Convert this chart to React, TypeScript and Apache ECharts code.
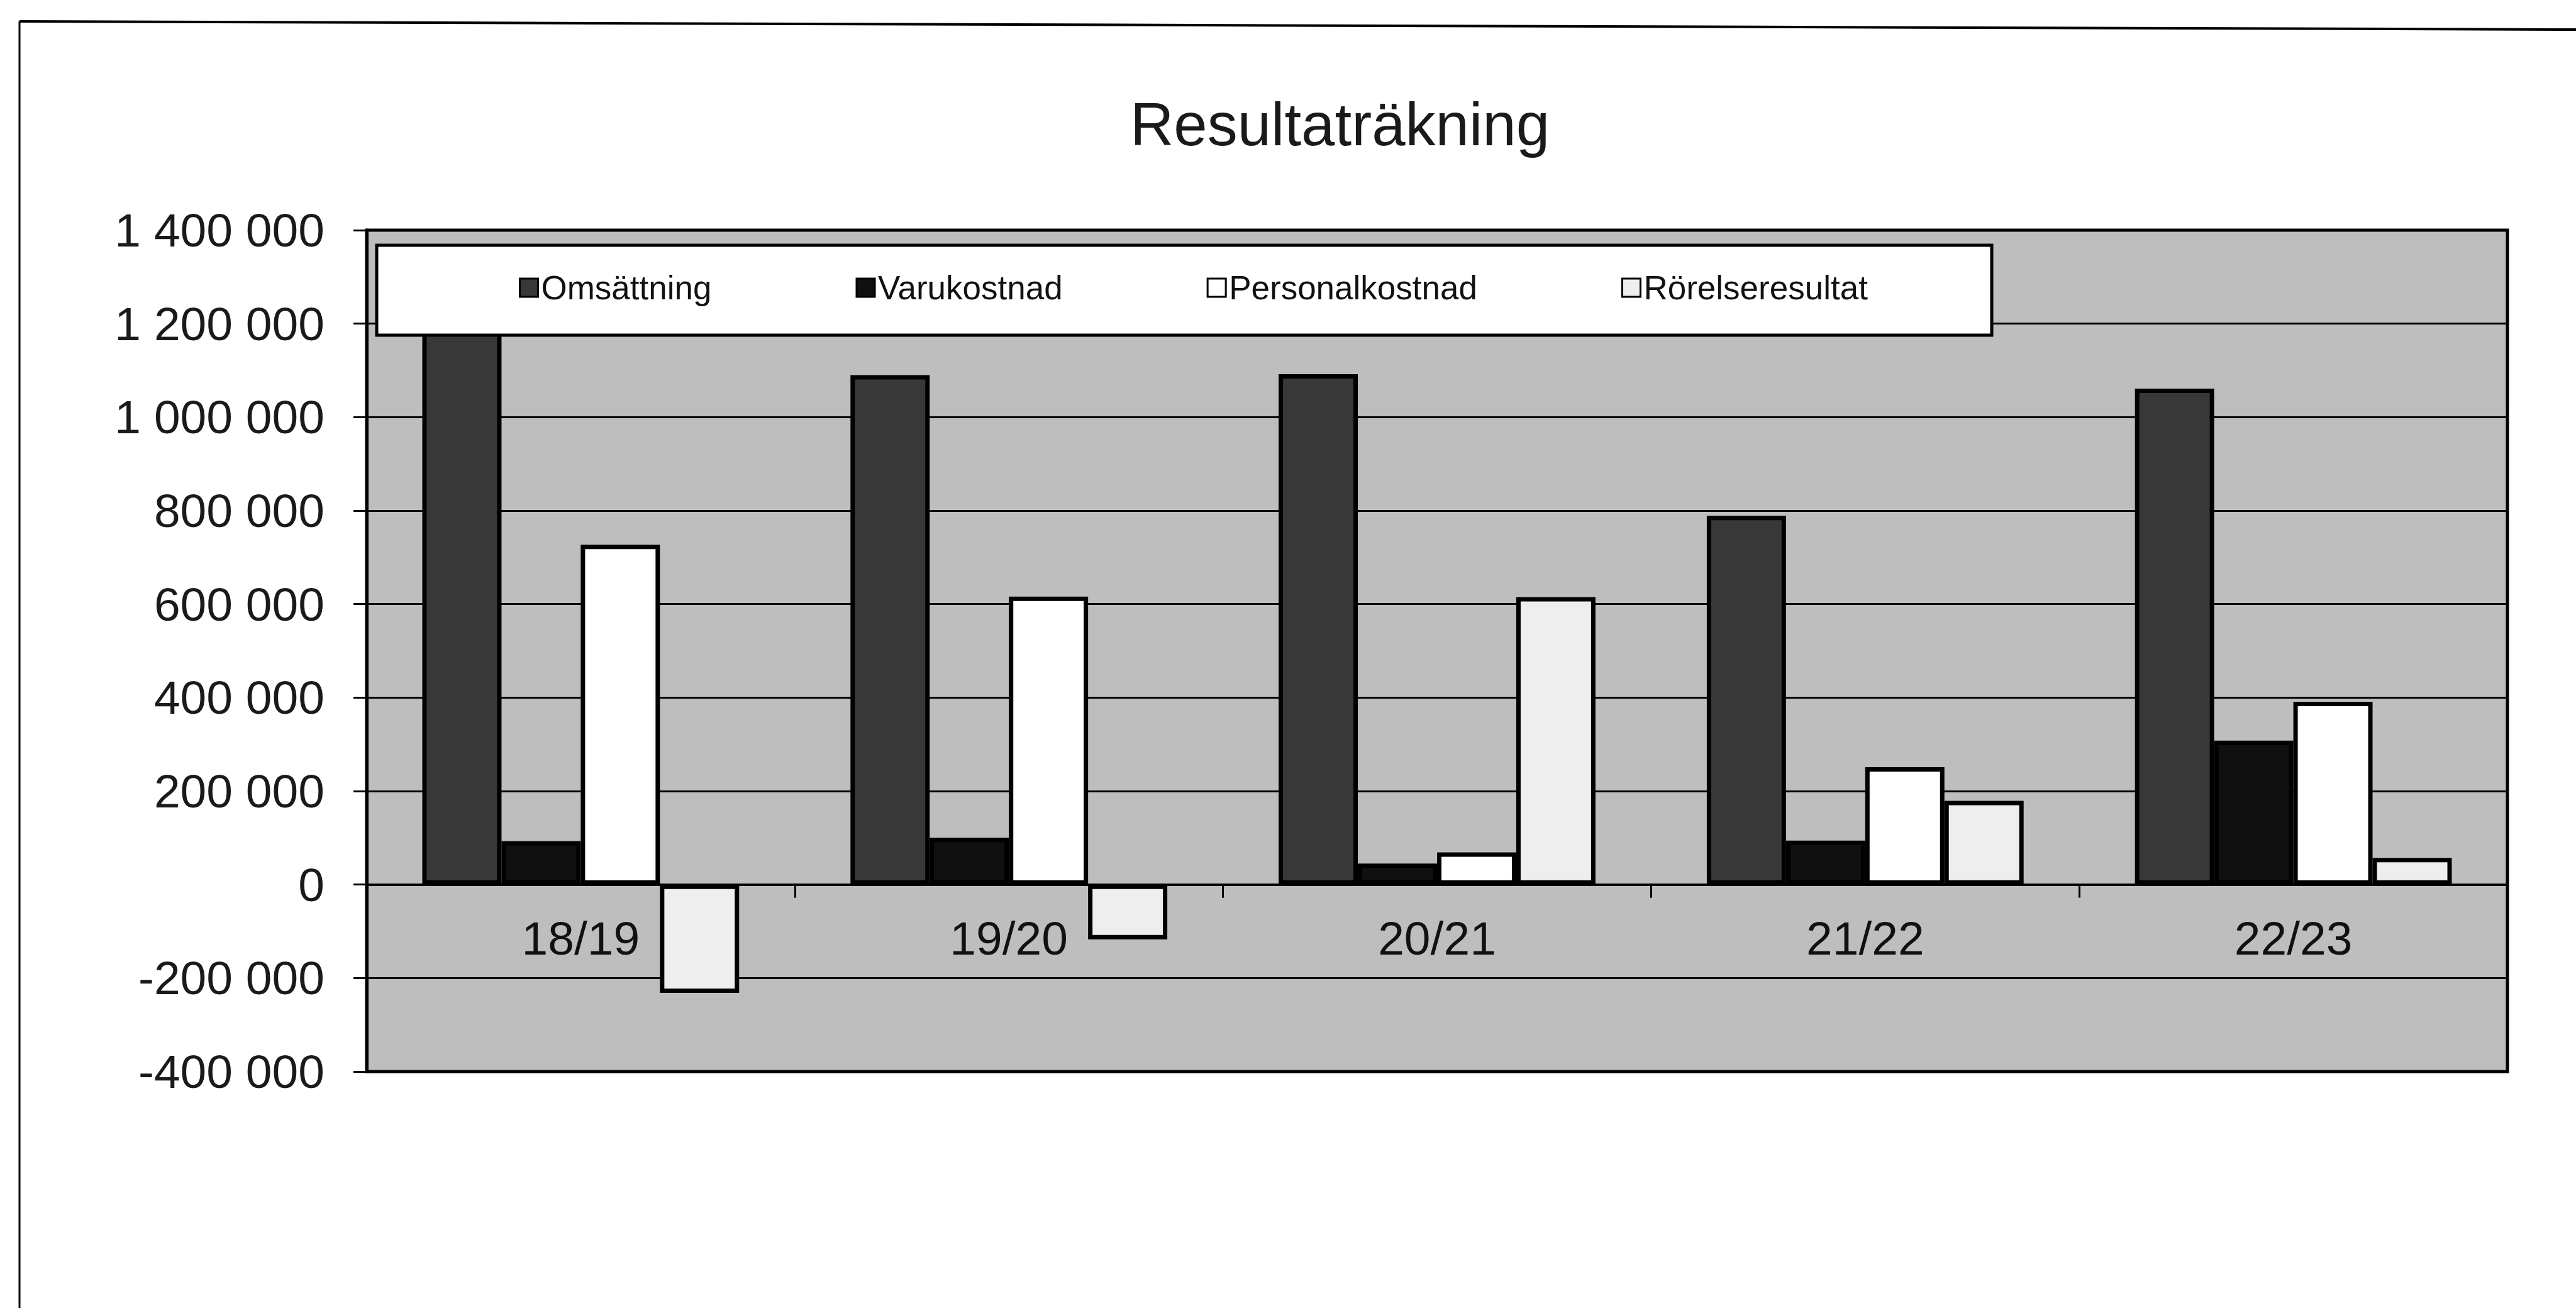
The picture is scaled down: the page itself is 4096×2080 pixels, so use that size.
import React, { useEffect, useRef } from "react";
import * as echarts from "echarts";

const titleText = "Resultaträkning";
const categories = ["18/19", "19/20", "20/21", "21/22", "22/23"];
const seriesNames = ["Omsättning", "Varukostnad", "Personalkostnad", "Rörelseresultat"];
const omsattning = [1230000, 1090000, 1092000, 789000, 1061000];
const varukostnad = [93000, 100000, 45000, 94000, 308000];
const personalkostnad = [727000, 616000, 69000, 251000, 391000];
const rorelseresultat = [-232000, -117000, 615000, 179000, 57000];
const seriesColors = ["#383838", "#101010", "#ffffff", "#eeeeee"];
const yMin = -400000;
const yMax = 1400000;
const yStep = 200000;

const FONT = "'Liberation Sans', Arial, Helvetica, sans-serif";

function fmt(v: number): string {
  const s = Math.abs(v)
    .toString()
    .replace(/\B(?=(\d{3})+(?!\d))/g, " ");
  return (v < 0 ? "-" : "") + s;
}

export default function App() {
  const ref = useRef<HTMLDivElement>(null);
  useEffect(() => {
    if (!ref.current) return;
    const chart = echarts.init(ref.current, undefined, { renderer: "svg" });
    const values = [omsattning, varukostnad, personalkostnad, rorelseresultat];
    const option: any = {
      animation: false,
      backgroundColor: "#ffffff",
      textStyle: { fontFamily: FONT },
      title: {
        text: titleText,
        left: 1792,
        top: 144,
        padding: 5,
        textStyle: { fontFamily: FONT, fontSize: 96, fontWeight: "normal", color: "#1a1a1a" },
      },
      graphic: [
        {
          type: "line",
          z: 10,
          shape: { x1: 31, y1: 34, x2: 31, y2: 2080 },
          style: { stroke: "#000", lineWidth: 3 },
        },
        {
          type: "line",
          z: 10,
          shape: { x1: 31, y1: 34, x2: 4096, y2: 47 },
          style: { stroke: "#000", lineWidth: 4 },
        },
        {
          type: "rect",
          z: 3,
          shape: { x: 599, y: 390, width: 2568, height: 143 },
          style: { fill: "#ffffff", stroke: "#000", lineWidth: 5 },
        },
      ],
      legend: {
        z: 5,
        left: 820,
        top: 426,
        padding: 5,
        itemGap: 229,
        itemWidth: 29,
        itemHeight: 29,
        icon: "rect",
        itemStyle: { borderWidth: 3, borderColor: "#000" },
        textStyle: { fontFamily: FONT, fontSize: 53, color: "#111" },
        data: seriesNames,
      },
      grid: {
        left: 583,
        right: 109,
        top: 366,
        bottom: 376,
        show: true,
        backgroundColor: "#bebebe",
        borderColor: "#000",
        borderWidth: 5,
        containLabel: false,
      },
      xAxis: {
        type: "category",
        data: categories,
        axisLine: { show: true, onZero: true, lineStyle: { color: "#000", width: 4 } },
        axisTick: { show: true, length: 21, inside: false, lineStyle: { color: "#000", width: 3 } },
        axisLabel: { fontFamily: FONT, fontSize: 75, color: "#111", margin: -250 },
        splitLine: { show: false },
      },
      yAxis: {
        type: "value",
        min: yMin,
        max: yMax,
        interval: yStep,
        axisLine: { show: true, lineStyle: { color: "#000", width: 5 } },
        axisTick: { show: true, length: 21, lineStyle: { color: "#000", width: 3 } },
        axisLabel: {
          fontFamily: FONT,
          fontSize: 75,
          color: "#1a1a1a",
          margin: 67,
          formatter: (v: number) => fmt(v),
        },
        splitLine: { show: true, lineStyle: { color: "#000", width: 3 } },
      },
      series: seriesNames.map((name, i) => ({
        name,
        type: "bar",
        data: values[i],
        barGap: "0%",
        barCategoryGap: "26%",
        itemStyle: { color: seriesColors[i], borderColor: "#000", borderWidth: 7 },
      })),
    };
    chart.setOption(option);
    return () => chart.dispose();
  }, []);
  return (
    <div
      ref={ref}
      style={{ position: "fixed", left: 0, top: 0, width: 4096, height: 2080, background: "#fff" }}
    />
  );
}
